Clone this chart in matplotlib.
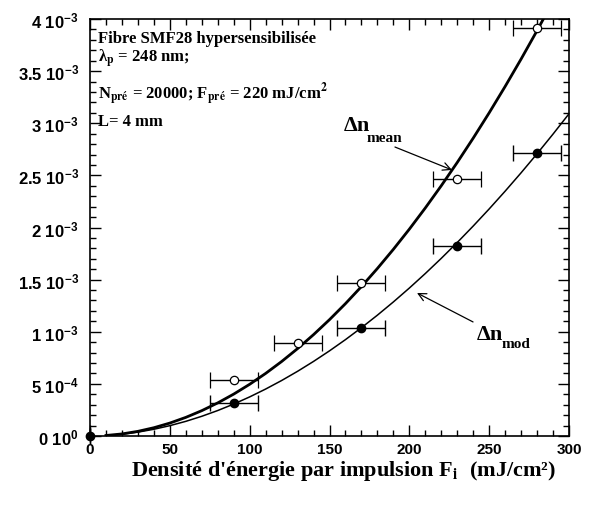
import numpy as np
import matplotlib
matplotlib.use("Agg")
import matplotlib.pyplot as plt
from matplotlib.ticker import MultipleLocator, FixedLocator

plt.rcParams['mathtext.fontset'] = 'custom'
plt.rcParams['mathtext.rm'] = 'Liberation Sans:bold'
plt.rcParams['mathtext.bf'] = 'Liberation Sans:bold'
plt.rcParams['mathtext.it'] = 'Liberation Sans:bold'

# ---- data ----
x_mean = [90, 130, 170, 230, 280]
y_mean = [0.534e-3, 0.889e-3, 1.468e-3, 2.462e-3, 3.91e-3]
xerr_mean = [15, 15, 15, 15, 15]

x_mod = [0, 90, 170, 230, 280]
y_mod = [0.0, 0.314e-3, 1.036e-3, 1.82e-3, 2.71e-3]
xerr_mod = [0, 15, 15, 15, 15]

# fitted curves (units of 1e-3)
curve_x = [10, 20, 30, 40, 50, 60, 70, 80, 90, 100, 110, 120, 130, 140, 150,
           160, 170, 180, 190, 200, 210, 220, 230, 240, 250, 260, 270, 280, 290, 300]
curve_mean = [0.0050, 0.0198, 0.0446, 0.0794, 0.1240, 0.1786, 0.2430, 0.3174,
              0.4018, 0.4960, 0.6002, 0.7142, 0.8382, 0.9722, 1.1160, 1.2698,
              1.4334, 1.6070, 1.7906, 1.9840, 2.1874, 2.4006, 2.6238, 2.8570,
              3.1000, 3.3530, 3.6158, 3.8886, 4.1714, 4.4640]
curve_mod = [0.0045, 0.0171, 0.0372, 0.0646, 0.0991, 0.1406, 0.1891, 0.2443,
             0.3063, 0.3750, 0.4503, 0.5321, 0.6205, 0.7154, 0.8168, 0.9245,
             1.0387, 1.1591, 1.2859, 1.4190, 1.5584, 1.7040, 1.8558, 2.0139,
             2.1780, 2.3484, 2.5249, 2.7074, 2.8961, 3.0909]
curve_scale = 1e-3

yticks = [0, 0.5e-3, 1e-3, 1.5e-3, 2e-3, 2.5e-3, 3e-3, 3.5e-3, 4e-3]
ytick_labels = [r'0 10$^{0}$', r'5 10$^{-4}$', r'1 10$^{-3}$', r'1.5 10$^{-3}$',
                r'2 10$^{-3}$', r'2.5 10$^{-3}$', r'3 10$^{-3}$', r'3.5 10$^{-3}$',
                r'4 10$^{-3}$']
xticks = [0, 50, 100, 150, 200, 250, 300]

SERIF = 'Liberation Serif'
SANS = 'Liberation Sans'

fig = plt.figure(figsize=(5.94, 5.06), dpi=100)
ax = fig.add_axes([90/594, 1-437/506, 479/594, 417/506])

ax.plot(curve_x, np.array(curve_mean) * curve_scale, color='black', lw=2.0)
ax.plot(curve_x, np.array(curve_mod) * curve_scale, color='black', lw=1.1)

ax.errorbar(x_mean, y_mean, xerr=xerr_mean, fmt='o', ms=6, mfc='white', mec='black',
            mew=0.9, ecolor='black', elinewidth=1.0, capsize=6, capthick=1.0, zorder=3)
ax.errorbar(x_mod, y_mod, xerr=xerr_mod, fmt='o', ms=6, mfc='black', mec='black',
            ecolor='black', elinewidth=1.0, capsize=6, capthick=1.0, zorder=3,
            clip_on=False)

ax.set_xlim(0, 300)
ax.set_ylim(0, 4e-3)
ax.xaxis.set_major_locator(FixedLocator(xticks))
ax.xaxis.set_minor_locator(MultipleLocator(10))
ax.yaxis.set_major_locator(FixedLocator(yticks))
ax.yaxis.set_minor_locator(MultipleLocator(1e-4))
ax.set_xticklabels([str(v) for v in xticks])
ax.set_yticklabels(ytick_labels)
ax.tick_params(which='both', direction='in', top=True, right=True, width=1.0)
ax.tick_params(which='major', length=8)
ax.tick_params(which='minor', length=4)
ax.tick_params(axis='x', pad=4)
ax.tick_params(axis='y', pad=8)
for lab in ax.get_xticklabels():
    lab.set_fontfamily(SANS)
    lab.set_fontweight('bold')
    lab.set_fontsize(11)
for lab in ax.get_yticklabels():
    lab.set_fontfamily(SANS)
    lab.set_fontweight('bold')
    lab.set_fontsize(12)
for s in ax.spines.values():
    s.set_linewidth(1.2)

ax.set_xlabel("Densité d'énergie par impulsion F$_{\\mathbf{i}}$  (mJ/cm²)",
              fontfamily=SERIF, fontweight='bold', fontsize=16, math_fontfamily='stix')
ax.xaxis.set_label_coords(0.53, -0.0945)
ax.xaxis.label.set_va('baseline')

tkw = dict(transform=ax.transAxes, fontfamily=SERIF, fontweight='bold', fontsize=12,
           va='baseline', ha='left', math_fontfamily='stix')
ax.text(0.0167, 0.9456, 'Fibre SMF28 hypersensibilisée', **tkw)
ax.text(0.0167, 0.897, r'λ$_{\mathbf{p}}$ = 248 nm;', **tkw)
ax.text(0.0167, 0.8106, r'N$_{\mathbf{pré}}$ = 20000; F$_{\mathbf{pré}}$ = 220 mJ/cm$^{\mathbf{2}}$', **tkw)
ax.text(0.0167, 0.7458, 'L= 4 mm', **tkw)

lkw = dict(fontfamily=SERIF, fontweight='bold', va='baseline', ha='left')
ax.text(159.1, 2.935e-3, 'Δn', fontsize=16, **lkw)
ax.text(173.5, 2.83e-3, 'mean', fontsize=11, **lkw)
ax.text(242.2, 0.930e-3, 'Δn', fontsize=16, **lkw)
ax.text(258.0, 0.854e-3, 'mod', fontsize=11, **lkw)

akw = dict(arrowstyle='->', color='black', lw=0.9, shrinkA=0, shrinkB=0,
           mutation_scale=14)
ax.annotate('', xy=(226.7, 2.552e-3), xytext=(191.0, 2.772e-3), arrowprops=akw)
ax.annotate('', xy=(204.8, 1.372e-3), xytext=(239.9, 1.094e-3), arrowprops=akw)

fig.savefig('out.png', dpi=100)
